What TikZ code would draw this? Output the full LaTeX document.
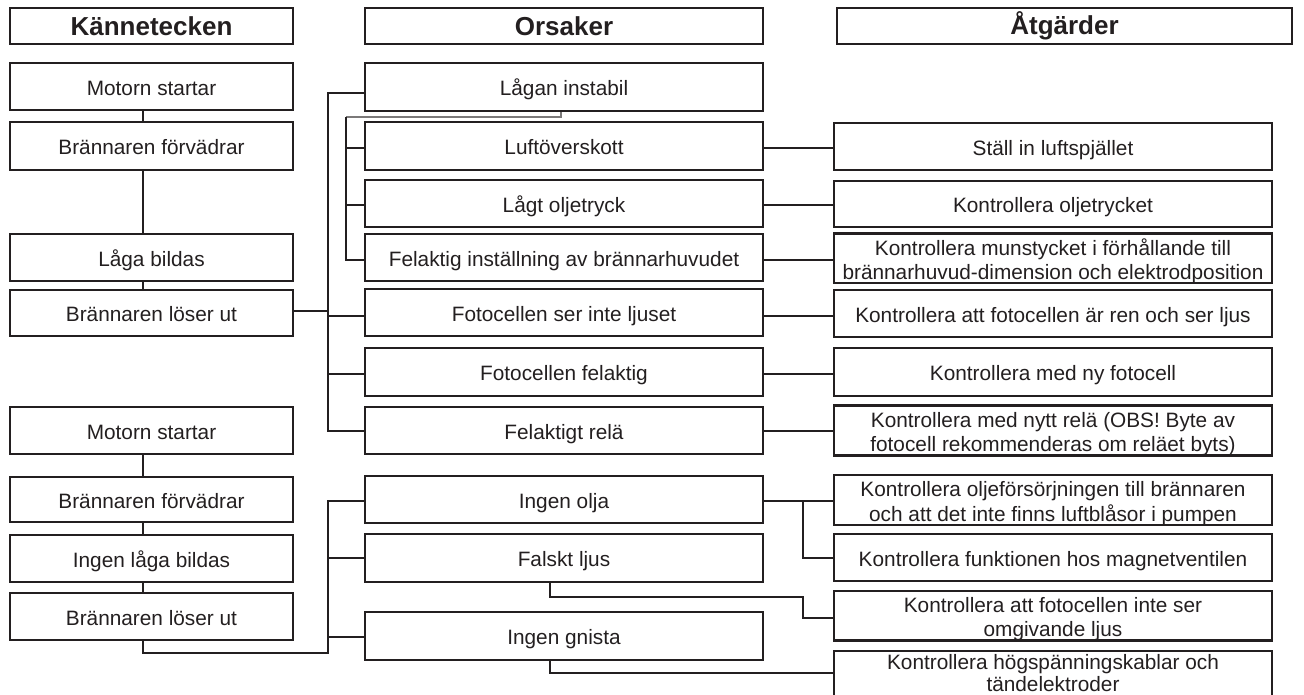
\documentclass[tikz,border=0pt]{standalone}
\usepackage{fontspec}
\setmainfont{Liberation Sans}
\usetikzlibrary{calc}
\definecolor{ink}{HTML}{231F20}
\tikzset{
 box/.style={draw=ink, line width=1.6pt, rectangle, inner sep=0pt, align=center,
   font=\fontsize{15.6}{18.7}\selectfont, text=ink},
 head/.style={box, font=\bfseries\fontsize{19.5}{22}\selectfont},
 conn/.style={draw=ink, line width=1.5pt},
 thinconn/.style={draw=ink!60, line width=1pt}
}
\newcommand\lowtext[2]{\raisebox{#1}[\height][\depth]{\begin{tabular}{@{}c@{}}#2\end{tabular}}}
% \bx[style]{name}{x1}{y1}{x2}{y2}{text}   (pixel coordinates, y downwards)
\newcommand\bx[7][box]{\node[#1,minimum width={(#5-#3-2)*0.75pt},minimum height={(#6-#4-2)*0.75pt}] (#2) at ({(#3+#5)/2},{(#4+#6)/2}) {\lowtext{-3pt}{#7}};}
\newcommand\hx[7][head]{\node[#1,minimum width={(#5-#3-2)*0.75pt},minimum height={(#6-#4-2)*0.75pt}] (#2) at ({(#3+#5)/2},{(#4+#6)/2}) {#7};}
\begin{document}
\begin{tikzpicture}[x=0.75pt,y=-0.75pt]
\clip (0,0) rectangle (1304,695);
\fill[white] (0,0) rectangle (1304,695);
% headers
\hx{h1}{9}{7}{294}{45}{Kännetecken}
\hx{h2}{364}{7}{764}{45}{Orsaker}
\hx{h3}{836}{7}{1293}{45}{Åtgärder}
% column 1
\bx{k1}{9}{62}{294}{111}{Motorn startar}
\bx{k2}{9}{121}{294}{171}{Brännaren förvädrar}
\bx{k3}{9}{233}{294}{282}{Låga bildas}
\bx{k4}{9}{289}{294}{337}{Brännaren löser ut}
\bx{k5}{9}{406}{294}{455}{Motorn startar}
\bx{k6}{9}{476}{294}{523}{Brännaren förvädrar}
\bx{k7}{9}{534}{294}{583}{Ingen låga bildas}
\bx{k8}{9}{592}{294}{641}{Brännaren löser ut}
% column 2
\bx{o1}{364}{62}{764}{112}{Lågan instabil}
\bx{o2}{364}{121}{764}{171}{Luftöverskott}
\bx{o3}{364}{179}{764}{228}{Lågt oljetryck}
\bx{o4}{364}{233}{764}{282}{Felaktig inställning av brännarhuvudet}
\bx{o5}{364}{288}{764}{337}{Fotocellen ser inte ljuset}
\bx{o6}{364}{347}{764}{397}{Fotocellen felaktig}
\bx{o7}{364}{406}{764}{455}{Felaktigt relä}
\bx{o8}{364}{475}{764}{524}{Ingen olja}
\bx{o9}{364}{533}{764}{583}{Falskt ljus}
\bx{o10}{364}{611}{764}{661}{Ingen gnista}
% column 3
\bx{a1}{833}{122}{1273}{171}{Ställ in luftspjället}
\bx{a2}{833}{180}{1273}{228}{Kontrollera oljetrycket}
\bx{a3}{833}{234}{1273}{283}{Kontrollera munstycket i förhållande till\\brännarhuvud-dimension och elektrodposition}
\bx{a4}{833}{289}{1273}{338}{Kontrollera att fotocellen är ren och ser ljus}
\bx{a5}{833}{347}{1273}{397}{Kontrollera med ny fotocell}
\bx{a6}{833}{406}{1273}{455}{Kontrollera med nytt relä (OBS! Byte av\\fotocell rekommenderas om reläet byts)}
\bx{a7}{833}{476}{1273}{524}{Kontrollera oljeförsörjningen till brännaren\\och att det inte finns luftblåsor i pumpen}
\bx{a8}{833}{533}{1273}{582}{Kontrollera funktionen hos magnetventilen}
\bx{a9}{833}{591}{1273}{640}{Kontrollera att fotocellen inte ser\\omgivande ljus}
\hx[box]{a10}{833}{650}{1273}{700}{\fontsize{15.6}{17}\selectfont\lowtext{-0.6pt}{Kontrollera högspänningskablar och\\tändelektroder}}
% guide coordinates
\coordinate (xa) at (143,0);
\coordinate (xb) at (328,0);
\coordinate (xd) at (561,0);
\coordinate (xe) at (550,0);
\coordinate (xf) at (803,0);
\coordinate (ib) at (346,117);
\coordinate (lb) at (328,653);
% column 1 chains
\draw[conn] (k1.south -| xa) -- (k2.north -| xa);
\draw[conn] (k2.south -| xa) -- (k3.north -| xa);
\draw[conn] (k3.south -| xa) -- (k4.north -| xa);
\draw[conn] (k5.south -| xa) -- (k6.north -| xa);
\draw[conn] (k6.south -| xa) -- (k7.north -| xa);
\draw[conn] (k7.south -| xa) -- (k8.north -| xa);
% upper bracket
\draw[conn] ($(k4.east)+(0,-2)$) -- ($(k4.east -| xb)+(0,-2)$);
\draw[conn] ($(o1.west)+(0,6)$) -| ($(o7.west -| xb)+(0,1)$) -- ($(o7.west)+(0,1)$);
\draw[conn] ($(o5.west -| xb)+(0,4)$) -- ($(o5.west)+(0,4)$);
\draw[conn] ($(o6.west -| xb)+(0,2)$) -- ($(o6.west)+(0,2)$);
% inner bracket
\draw[thinconn] (o1.south -| xd) |- (ib);
\draw[conn] (ib) |- ($(o4.west)+(0,3)$);
\draw[conn] ($(o2.west -| ib)+(0,2)$) -- ($(o2.west)+(0,2)$);
\draw[conn] ($(o3.west -| ib)+(0,2)$) -- ($(o3.west)+(0,2)$);
% causes to actions
\draw[conn] ($(o2.east)+(0,2)$) -- ($(o2.east -| a1.west)+(0,2)$);
\draw[conn] ($(o3.east)+(0,2)$) -- ($(o3.east -| a2.west)+(0,2)$);
\draw[conn] ($(o4.east)+(0,3)$) -- ($(o4.east -| a3.west)+(0,3)$);
\draw[conn] ($(o5.east)+(0,4)$) -- ($(o5.east -| a4.west)+(0,4)$);
\draw[conn] ($(o6.east)+(0,2)$) -- ($(o6.east -| a5.west)+(0,2)$);
\draw[conn] ($(o7.east)+(0,1)$) -- ($(o7.east -| a6.west)+(0,1)$);
\draw[conn] ($(o8.east)+(0,1)$) -- ($(o8.east -| a7.west)+(0,1)$);
\draw[conn] ($(o8.east -| xf)+(0,1)$) |- (a8.west);
\draw[conn] (o9.south -| xe) -- ++(0,14) -| ($(a9.west -| xf)+(0,2)$) -- ($(a9.west)+(0,2)$);
\draw[conn] (o10.south -| xe) |- ($(a10.west)+(0,-2)$);
% lower bracket
\draw[conn] (k8.south -| xa) |- (lb) -- ($(o8.west -| xb)+(0,1)$) -- ($(o8.west)+(0,1)$);
\draw[conn] (o9.west -| xb) -- (o9.west);
\draw[conn] ($(o10.west -| xb)+(0,1)$) -- ($(o10.west)+(0,1)$);
\end{tikzpicture}
\end{document}
